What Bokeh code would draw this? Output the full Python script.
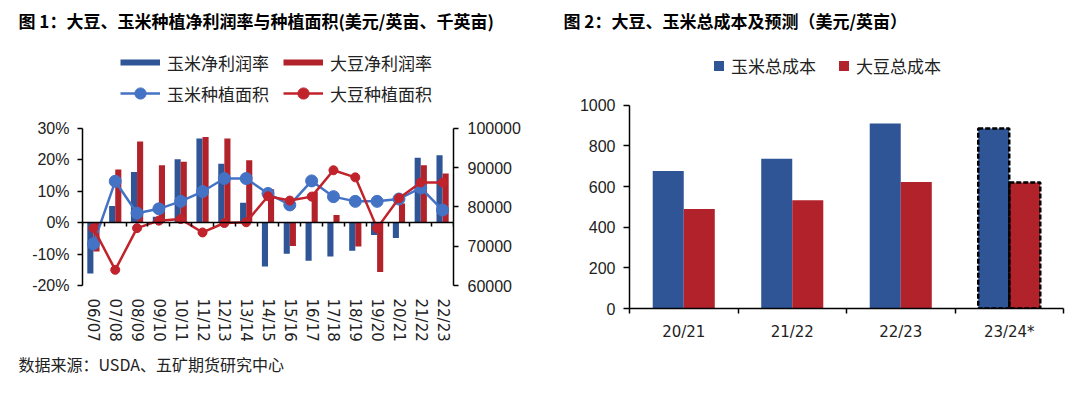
import math
from bokeh.plotting import figure
from bokeh.models import (Range1d, LinearAxis, FixedTicker, NumeralTickFormatter, Legend,
                          LegendItem, Title, ColumnDataSource, CDSView, BooleanFilter)
from bokeh.transform import dodge
from bokeh.layouts import row
from bokeh.embed import file_html
from bokeh.resources import INLINE

# ---------------- data ----------------
seasons = ["06/07", "07/08", "08/09", "09/10", "10/11", "11/12", "12/13", "13/14", "14/15",
           "15/16", "16/17", "17/18", "18/19", "19/20", "20/21", "21/22", "22/23"]
corn_margin = [-0.162, 0.053, 0.161, 0.019, 0.201, 0.267, 0.187, 0.063, -0.139,
               -0.099, -0.121, -0.108, -0.089, -0.039, -0.049, 0.206, 0.214]
soy_margin = [-0.092, 0.169, 0.258, 0.182, 0.193, 0.272, 0.267, 0.198, 0.106,
              -0.074, 0.098, 0.024, -0.076, -0.157, 0.061, 0.182, 0.156]
corn_area = [70600, 86500, 78400, 79500, 81400, 83900, 87200, 87200, 83400,
             80500, 86600, 82600, 81400, 81400, 82000, 84800, 79200]
soy_area = [74600, 64000, 74600, 76500, 76900, 73500, 75900, 76100, 82700,
            81600, 82600, 89300, 87500, 74600, 82200, 86200, 86200]
margin_ticks = [-0.2, -0.1, 0.0, 0.1, 0.2, 0.3]
area_ticks = [60000, 70000, 80000, 90000, 100000]

years = ["20/21", "21/22", "22/23", "23/24*"]
corn_cost = [677, 737, 910, 886]
soy_cost = [489, 533, 623, 620]
forecast = [False, False, False, True]
cost_ticks = [0, 200, 400, 600, 800, 1000]

# ---------------- style / layout constants (pixels) ----------------
BLUE_BAR = "#2F5597"
RED_BAR = "#B2222A"
BLUE_LINE = "#4472C4"
RED_LINE = "#C0232B"
TXT = "#222222"
CJK = "Noto Sans CJK SC"
NUM = "Liberation Sans"

H = 394
FRAME_TOP = 36          # shared frame top (row aligns frames)
FRAME_BOTTOM = 308      # shared frame bottom
L_AX_TOP, L_AX_BOT = 127, 285    # left chart value-axis extent
R_AX_TOP, R_AX_BOT = 104, 308    # right chart value-axis extent


def extended(lo, hi, ax_top, ax_bot):
    """Range whose [lo, hi] maps onto pixels [ax_bot, ax_top] inside the shared frame."""
    per_px = (hi - lo) / (ax_bot - ax_top)
    return Range1d(lo - (FRAME_BOTTOM - ax_bot) * per_px, hi + (ax_top - FRAME_TOP) * per_px)


def style_axis(ax, size="16px", font=NUM):
    ax.axis_line_color = "black"
    ax.axis_line_width = 1.5
    ax.major_tick_line_color = "black"
    ax.major_tick_line_width = 1.5
    ax.major_tick_in = 0
    ax.major_tick_out = 5
    ax.minor_tick_line_color = None
    ax.major_label_text_font = font
    ax.major_label_text_font_size = size
    ax.major_label_text_color = TXT


# ================= left chart =================
n = len(seasons)
src1 = ColumnDataSource(dict(x=list(range(n)), corn_margin=corn_margin, soy_margin=soy_margin,
                             corn_area=corn_area, soy_area=soy_area))

p1 = figure(width=540, height=H, x_range=Range1d(-0.5, n - 0.5),
            y_range=extended(margin_ticks[0], margin_ticks[-1], L_AX_TOP, L_AX_BOT),
            output_backend="svg", toolbar_location=None, x_axis_location=None,
            min_border_left=82, min_border_right=87, min_border_top=FRAME_TOP,
            min_border_bottom=H - FRAME_BOTTOM)
p1.grid.visible = False
p1.outline_line_color = None
p1.title.visible = False

p1.extra_y_ranges = {"area": extended(area_ticks[0], area_ticks[-1], L_AX_TOP, L_AX_BOT)}

yl = p1.yaxis[0]
yl.ticker = FixedTicker(ticks=margin_ticks)
yl.formatter = NumeralTickFormatter(format="0%")
yl.bounds = (margin_ticks[0], margin_ticks[-1])
style_axis(yl)
yl.major_label_standoff = 8

yr = LinearAxis(y_range_name="area", ticker=FixedTicker(ticks=area_ticks),
                formatter=NumeralTickFormatter(format="0"),
                bounds=(area_ticks[0], area_ticks[-1]))
style_axis(yr)
yr.major_label_standoff = 9
p1.add_layout(yr, "right")

# category labels under the chart
xl = LinearAxis(ticker=FixedTicker(ticks=list(range(n))),
                major_label_overrides={i: s for i, s in enumerate(seasons)})
style_axis(xl, size="15px", font="DejaVu Sans")
xl.axis_line_color = None
xl.major_tick_line_color = None
xl.major_tick_out = 0
xl.major_label_orientation = -math.pi / 2
xl.major_label_standoff = -10
p1.add_layout(xl, "below")

# zero line with category separators
xz = LinearAxis(fixed_location=0, ticker=FixedTicker(ticks=[i - 0.5 for i in range(n + 1)]))
style_axis(xz)
xz.major_label_text_color = None
xz.major_label_text_font_size = "1px"
xz.major_label_standoff = 19
xz.major_tick_out = 4
p1.add_layout(xz, "below")

p1.vbar(x=dodge("x", -0.14, range=p1.x_range), top="corn_margin", bottom=0, width=0.28,
        fill_color=BLUE_BAR, line_color=None, source=src1)
p1.vbar(x=dodge("x", 0.14, range=p1.x_range), top="soy_margin", bottom=0, width=0.28,
        fill_color=RED_BAR, line_color=None, source=src1)

# legend-only swatches for the bars (hidden)
leg_cm = p1.line("x", "corn_margin", source=src1, line_width=6, line_color=BLUE_BAR, visible=False)
leg_sm = p1.line("x", "soy_margin", source=src1, line_width=6, line_color=RED_BAR, visible=False)

l_ca = p1.line("x", "corn_area", source=src1, y_range_name="area", line_width=2.5, line_color=BLUE_LINE)
s_ca = p1.scatter("x", "corn_area", source=src1, y_range_name="area", size=12,
                  fill_color=BLUE_LINE, line_color=BLUE_LINE)
l_sa = p1.line("x", "soy_area", source=src1, y_range_name="area", line_width=2.5, line_color=RED_LINE)
s_sa = p1.scatter("x", "soy_area", source=src1, y_range_name="area", size=9,
                  fill_color=RED_LINE, line_color=RED_LINE)

legend1 = Legend(items=[LegendItem(label="玉米净利润率", renderers=[leg_cm]),
                        LegendItem(label="大豆净利润率", renderers=[leg_sm]),
                        LegendItem(label="玉米种植面积", renderers=[l_ca, s_ca]),
                        LegendItem(label="大豆种植面积", renderers=[l_sa, s_sa])],
                 orientation="horizontal", ncols=2, location=(38, 201),
                 label_text_font=CJK, label_text_font_size="17px", label_text_color=TXT,
                 glyph_width=40, glyph_height=28, label_height=17, label_width=113,
                 label_standoff=7, spacing=3, padding=0, margin=0,
                 border_line_color=None, background_fill_alpha=0)
p1.add_layout(legend1, "center")

p1.add_layout(Title(text="图 1：大豆、玉米种植净利润率与种植面积(美元/英亩、千英亩)",
                    text_font=CJK, text_font_style="bold", text_font_size="17px",
                    text_color="black", align="left", offset=-64), "above")
p1.add_layout(Title(text="数据来源：USDA、五矿期货研究中心", text_font=CJK,
                    text_font_style="normal", text_font_size="16px", text_color=TXT,
                    align="left", offset=-64), "below")

# ================= right chart =================
m = len(years)
src2 = ColumnDataSource(dict(x=list(range(m)), corn_cost=corn_cost, soy_cost=soy_cost))
fview = CDSView(filter=BooleanFilter(booleans=forecast))

p2 = figure(width=540, height=H, x_range=Range1d(-0.5, m - 0.5),
            y_range=extended(cost_ticks[0], cost_ticks[-1], R_AX_TOP, R_AX_BOT),
            output_backend="svg", toolbar_location=None,
            min_border_left=89, min_border_right=17, min_border_top=FRAME_TOP,
            min_border_bottom=H - FRAME_BOTTOM)
p2.grid.visible = False
p2.outline_line_color = None
p2.title.visible = False

ya = p2.yaxis[0]
ya.ticker = FixedTicker(ticks=cost_ticks)
ya.bounds = (cost_ticks[0], cost_ticks[-1])
style_axis(ya)
ya.major_tick_out = 6
ya.major_label_standoff = 8

xa = p2.xaxis[0]
xa.ticker = FixedTicker(ticks=list(range(m)), minor_ticks=[i - 0.5 for i in range(m + 1)])
xa.major_label_overrides = {i: s for i, s in enumerate(years)}
style_axis(xa, size="15px", font="DejaVu Sans")
xa.major_tick_line_color = None
xa.major_tick_out = 0
xa.minor_tick_line_color = "black"
xa.minor_tick_line_width = 1.5
xa.minor_tick_in = 0
xa.minor_tick_out = 5
xa.major_label_standoff = 9

p2.vbar(x=dodge("x", -0.143, range=p2.x_range), top="corn_cost", bottom=0, width=0.286,
        fill_color=BLUE_BAR, line_color=None, source=src2)
p2.vbar(x=dodge("x", 0.143, range=p2.x_range), top="soy_cost", bottom=0, width=0.286,
        fill_color=RED_BAR, line_color=None, source=src2)
p2.vbar(x=dodge("x", -0.143, range=p2.x_range), top="corn_cost", bottom=0, width=0.286,
        fill_alpha=0, line_color="black", line_width=2.5, line_dash="5 2", source=src2, view=fview)
p2.vbar(x=dodge("x", 0.143, range=p2.x_range), top="soy_cost", bottom=0, width=0.286,
        fill_alpha=0, line_color="black", line_width=2.5, line_dash="5 2", source=src2, view=fview)

# legend-only square swatches (hidden)
leg_cc = p2.scatter("x", "corn_cost", source=src2, marker="square", size=10,
                    fill_color=BLUE_BAR, line_color=None, visible=False)
leg_sc = p2.scatter("x", "soy_cost", source=src2, marker="square", size=10,
                    fill_color=RED_BAR, line_color=None, visible=False)

legend2 = Legend(items=[LegendItem(label="玉米总成本", renderers=[leg_cc]),
                        LegendItem(label="大豆总成本", renderers=[leg_sc])],
                 orientation="horizontal", location=(77, 230),
                 label_text_font=CJK, label_text_font_size="17px", label_text_color=TXT,
                 glyph_width=25, glyph_height=25, label_height=17, label_standoff=0,
                 spacing=15, padding=0, margin=0,
                 border_line_color=None, background_fill_alpha=0)
p2.add_layout(legend2, "center")
p2.add_layout(Title(text="图 2：大豆、玉米总成本及预测（美元/英亩）",
                    text_font=CJK, text_font_style="bold", text_font_size="17px",
                    text_color="black", align="left", offset=-66), "above")

layout = row(p1, p2)
open("out.html", "w").write(file_html(layout, INLINE))
